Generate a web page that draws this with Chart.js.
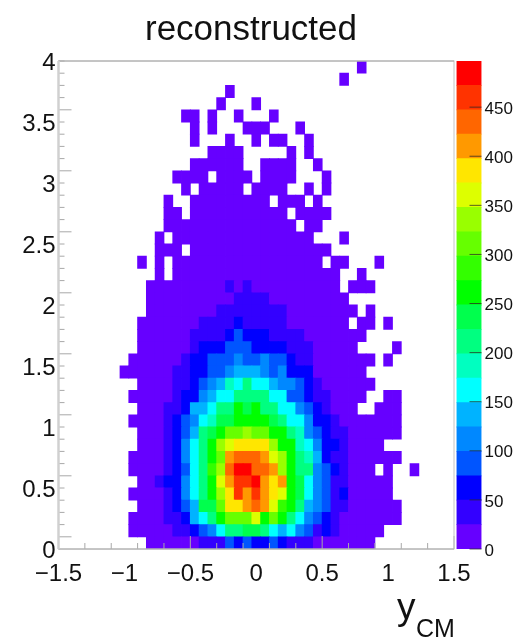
<!DOCTYPE html>
<html>
<head>
<meta charset="utf-8">
<title>reconstructed</title>
<script src="https://cdn.jsdelivr.net/npm/chart.js@4/dist/chart.umd.min.js"></script>
<style>
	html, body { margin: 0; padding: 0; background: #fff; }
	#wrap { position: relative; width: 518px; height: 639px; overflow: hidden; }
	#hist { position: absolute; left: 0; top: 0; }
	#palette { position: absolute; left: 450px; top: 0; }
</style>
</head>
<body>
<div id="wrap">
	<canvas id="hist" width="518" height="639"></canvas>
	<canvas id="palette" width="68" height="639"></canvas>
</div>
<script>
const titleText = 'reconstructed';
const xTitle = 'y';
const xTitleSub = 'CM';
const xTickLabels = ['\u22121.5', '\u22121', '\u22120.5', '0', '0.5', '1', '1.5'];
const yTickLabels = ['0', '0.5', '1', '1.5', '2', '2.5', '3', '3.5', '4'];
const zTickLabels = ['0', '50', '100', '150', '200', '250', '300', '350', '400', '450'];

const xBinEdges = [-1.5, -1.4333, -1.3667, -1.3, -1.2333, -1.1667, -1.1, -1.0333, -0.9667, -0.9, -0.8333, -0.7667,
	-0.7, -0.6333, -0.5667, -0.5, -0.4333, -0.3667, -0.3, -0.2333, -0.1667, -0.1, -0.0333, 0.0333,
	0.1, 0.1667, 0.2333, 0.3, 0.3667, 0.4333, 0.5, 0.5667, 0.6333, 0.7, 0.7667, 0.8333,
	0.9, 0.9667, 1.0333, 1.1, 1.1667, 1.2333, 1.3, 1.3667, 1.4333, 1.5];
// top row first
const yBinCenters = [3.95, 3.85, 3.75, 3.65, 3.55, 3.45, 3.35, 3.25, 3.15, 3.05,
	2.95, 2.85, 2.75, 2.65, 2.55, 2.45, 2.35, 2.25, 2.15, 2.05,
	1.95, 1.85, 1.75, 1.65, 1.55, 1.45, 1.35, 1.25, 1.15, 1.05,
	0.95, 0.85, 0.75, 0.65, 0.55, 0.45, 0.35, 0.25, 0.15, 0.05];
const zLevelEdges = [0, 24.85, 49.7, 74.55, 99.4, 124.25, 149.1, 173.95, 198.8, 223.65, 248.5,
	273.35, 298.2, 323.05, 347.9, 372.75, 397.6, 422.45, 447.3, 472.15, 497];

// first filled x bin of each row, then the counts from that bin on (0 = empty bin)
const rowFirstBin = [34, 32, 19, 18, 14, 15, 15, 17, 15, 13, 14, 12, 12, 12, 11, 11, 9, 11, 10, 10,
	10, 9, 9, 9, 8, 7, 9, 8, 9, 8, 9, 9, 8, 8, 9, 8, 9, 8, 8, 10];
const rowCounts = [
	[12],
	[12],
	[12],
	[12,0,0,0,12],
	[12,12,0,12,0,0,12,0,0,0,12],
	[12,0,12,0,0,0,12,12,12,0,0,0,12],
	[12,0,0,0,12,0,0,12,0,12,12,0,0,12],
	[12,12,12,12,0,0,0,0,0,12,0,12],
	[12,12,12,12,12,12,0,0,12,12,12,12,0,0,12],
	[12,12,12,12,0,12,12,12,12,0,12,12,12,12,0,0,0,12],
	[12,0,12,12,12,12,12,0,12,12,12,12,0,0,12,0,12],
	[12,0,0,12,12,12,12,12,12,12,12,12,0,12,12,12,0,12],
	[12,12,0,12,12,12,12,12,12,12,12,12,12,12,0,12,12,12,12],
	[12,12,12,12,12,12,12,12,12,12,12,12,12,12,12,0,12,12],
	[12,0,12,12,12,12,12,12,12,12,12,12,12,12,12,12,12,12,0,0,0,12],
	[12,12,12,0,12,12,12,12,12,12,12,12,12,12,12,12,12,12,12,12],
	[12,0,12,0,12,12,12,12,12,12,12,12,12,12,12,12,12,12,12,12,12,0,12,12,0,0,0,12],
	[12,0,12,12,12,12,12,12,12,12,12,12,12,12,12,12,12,12,12,12,12,0,0,12],
	[12,12,12,12,12,12,12,12,12,37,12,37,12,12,12,12,12,12,12,12,12,12,0,12,12,12],
	[12,12,12,12,12,12,12,12,12,12,37,37,37,37,12,12,12,12,12,12,12,12,12],
	[12,12,12,12,12,12,12,12,37,37,37,37,37,37,37,37,12,12,12,12,12,12,12,12,0,12],
	[12,12,12,12,12,12,12,37,37,37,37,62,37,37,37,37,37,12,12,12,12,12,12,12,0,12,12,0,12],
	[12,12,12,12,12,12,37,37,37,37,62,87,62,62,62,37,37,37,37,12,12,12,12,12,12,12],
	[12,12,12,12,12,12,37,62,62,62,87,87,87,62,62,62,62,37,37,37,12,12,12,12,12,0,0,0,0,12],
	[12,12,12,12,12,12,37,62,62,87,87,87,112,87,87,112,87,87,62,37,37,12,12,12,12,12,12,12,0,12],
	[12,12,12,12,12,12,37,37,62,62,87,87,112,137,137,137,112,87,112,62,62,62,12,12,12,12,12,12],
	[12,12,12,12,37,37,62,87,112,137,186,161,211,161,161,137,112,112,87,62,37,12,12,12,12,12,12],
	[12,12,12,12,12,37,62,62,112,137,161,161,211,211,211,211,161,161,87,87,62,37,37,12,12,12,12,0,0,12,12],
	[12,12,12,37,37,62,137,137,161,211,211,261,236,261,211,211,161,161,112,87,62,37,12,12,12,0,0,12,12,12],
	[12,12,12,12,37,62,87,112,161,186,236,236,261,261,261,261,236,211,161,161,112,62,62,37,12,12,12,12,12,12,12],
	[12,12,12,37,62,87,137,211,236,261,311,311,335,311,311,261,261,211,186,112,87,62,37,37,12,12,12,12,12,12],
	[12,12,12,37,62,112,161,211,261,335,360,385,385,385,385,335,261,261,186,161,112,62,62,37,12,12,12,12],
	[12,12,12,12,37,62,112,161,211,261,311,410,435,435,435,410,360,335,261,211,186,137,62,37,37,12,12,12,12,12,12],
	[12,12,12,12,37,62,87,161,211,286,335,435,485,485,435,435,410,335,261,211,211,112,87,62,37,12,12,12,0,12,0,0,12],
	[12,12,37,62,62,112,161,211,261,360,410,460,460,485,410,385,410,261,236,161,112,87,37,37,12,12,12,12,12],
	[12,12,12,12,37,62,112,161,211,261,335,385,460,410,460,410,385,360,261,236,161,112,87,37,62,12,12,12,12,12],
	[12,12,12,37,62,87,137,236,236,311,385,385,410,435,410,360,286,261,211,137,112,87,37,37,12,12,12,12,12,12],
	[12,12,12,12,37,37,62,137,161,211,261,311,311,311,360,261,311,261,211,161,112,87,62,37,12,12,12,12,12,12,12],
	[12,12,12,12,12,37,37,62,87,112,161,211,211,236,236,211,161,137,161,112,87,37,62,37,12,12,12,12,12],
	[12,12,12,12,12,12,37,37,37,87,62,87,62,62,87,62,37,37,37,12,12,12,12,12,12,12]
];

// rainbow palette, bottom level first
const levelColors = ['#6600ff', '#3300ff', '#0000ff', '#0055ff', '#0088ff', '#00b3ff', '#00ffff', '#00ffc0',
	'#00ff80', '#00ff4d', '#00ff00', '#33ff00', '#66ff00', '#99ff00', '#ddff00', '#ffe600',
	'#ff9900', '#ff6600', '#ff3300', '#ff0000'];

const FONT = "'Liberation Sans', Arial, sans-serif";
const TEXT_COLOR = '#111';
const AXIS_COLOR = '#a8a8a8';

function levelColor(v) {
	let idx = zLevelEdges.findIndex((e, i) => v >= e && v < zLevelEdges[i + 1]);
	return levelColors[idx];
}

function getHistPoints() {
	let pts = [];
	rowCounts.forEach((row, r) => {
		row.forEach((n, k) => {
			if (n > 0) {
				let bin = rowFirstBin[r] + k;
				pts.push({x: [xBinEdges[bin], xBinEdges[bin + 1]], y: yBinCenters[r], count: n});
			}
		});
	});
	return pts;
}

const histPoints = getHistPoints();

// inward ticks and the frame, plus title text
const frameTicks = {
	id: 'frameTicks',
	afterDatasetsDraw(chart) {
		const {ctx, chartArea: a, scales: {x, y}} = chart;
		ctx.save();
		ctx.strokeStyle = AXIS_COLOR;
		ctx.lineWidth = 1;
		ctx.beginPath();
		for (let i = 0; i < xBinEdges.length; i += 3) {
			let v = xBinEdges[i];
			let len = (i % 15 === 0) ? 13 : 6;
			ctx.moveTo(x.getPixelForValue(v), a.bottom);
			ctx.lineTo(x.getPixelForValue(v), a.bottom - len);
		}
		for (let i = 0; i < yBinCenters.length; i++) {
			let v = yBinCenters[i] + 0.05;
			let len = (i % 5 === 4) ? 13 : 6;
			ctx.moveTo(a.left, y.getPixelForValue(v));
			ctx.lineTo(a.left + len, y.getPixelForValue(v));
		}
		ctx.stroke();
		ctx.strokeStyle = '#c4c4c4';
		ctx.strokeRect(a.left, a.top, a.right - a.left, a.bottom - a.top);
		ctx.strokeStyle = AXIS_COLOR;
		ctx.beginPath();
		ctx.moveTo(a.left, a.top);
		ctx.lineTo(a.right, a.top);
		ctx.moveTo(a.left, a.bottom);
		ctx.lineTo(a.right, a.bottom);
		ctx.stroke();
		ctx.strokeStyle = '#d0d0d0';
		ctx.lineWidth = 2.5;
		ctx.beginPath();
		ctx.moveTo(a.left, a.top);
		ctx.lineTo(a.left, a.bottom);
		ctx.stroke();
		ctx.restore();

		ctx.save();
		ctx.fillStyle = TEXT_COLOR;
		ctx.textBaseline = 'alphabetic';
		ctx.textAlign = 'center';
		ctx.font = '35px ' + FONT;
		ctx.fillText(titleText, 251, 40);
		ctx.textAlign = 'left';
		ctx.font = '37px ' + FONT;
		ctx.fillText(xTitle, 397, 619);
		ctx.font = '25px ' + FONT;
		ctx.fillText(xTitleSub, 416, 637);
		ctx.restore();
	}
};

const paletteTicks = {
	id: 'paletteTicks',
	afterDatasetsDraw(chart) {
		const {ctx, chartArea: a, scales: {y}} = chart;
		ctx.save();
		ctx.strokeStyle = 'rgba(40,40,40,0.75)';
		ctx.lineWidth = 1;
		ctx.beginPath();
		zTickLabels.forEach((t) => {
			let py = y.getPixelForValue(Number(t));
			ctx.moveTo(a.right, py);
			ctx.lineTo(a.right - 12, py);
		});
		ctx.stroke();
		ctx.restore();
	}
};

new Chart(document.getElementById('hist'), {
	type: 'bar',
	data: {
		datasets: [{
			data: histPoints,
			backgroundColor: histPoints.map((p) => levelColor(p.count)),
			barPercentage: 1,
			categoryPercentage: 1,
			borderWidth: 0,
			inflateAmount: 0.4,
		}],
	},
	options: {
		indexAxis: 'y',
		responsive: false,
		animation: false,
		devicePixelRatio: 1,
		layout: {padding: {top: 61, right: 64, left: 0, bottom: 0}},
		plugins: {legend: {display: false}, tooltip: {enabled: false}, title: {display: false}},
		scales: {
			x: {
				type: 'linear',
				min: -1.5,
				max: 1.5,
				offset: false,
				grid: {display: false, drawTicks: false},
				border: {display: false},
				ticks: {
					stepSize: 0.5,
					autoSkip: false,
					maxRotation: 0,
					padding: 11,
					color: TEXT_COLOR,
					font: {family: FONT, size: 24},
					callback: (v, i) => xTickLabels[i],
				},
				afterFit: (s) => { s.height = 90; },
			},
			y: {
				type: 'linear',
				min: 0,
				max: 4,
				offset: false,
				grid: {display: false, drawTicks: false},
				border: {display: false},
				ticks: {
					stepSize: 0.5,
					autoSkip: false,
					padding: 3,
					color: TEXT_COLOR,
					// empty first line with a 5px line height pushes the label 2.5px down
					font: {family: FONT, size: 24, lineHeight: '5px'},
					callback: (v, i) => ['', yTickLabels[i]],
				},
				afterFit: (s) => { s.width = 58.5; },
			},
		},
	},
	plugins: [frameTicks],
});

new Chart(document.getElementById('palette'), {
	type: 'bar',
	data: {
		labels: ['z'],
		datasets: levelColors.map((c, i) => ({
			data: [[zLevelEdges[i], zLevelEdges[i + 1]]],
			backgroundColor: c,
			grouped: false,
			barPercentage: 1,
			categoryPercentage: 1,
			borderWidth: 0,
			inflateAmount: 0.4,
		})),
	},
	options: {
		responsive: false,
		animation: false,
		devicePixelRatio: 1,
		layout: {padding: {top: 61, bottom: 90, left: 6.5, right: 0}},
		plugins: {legend: {display: false}, tooltip: {enabled: false}},
		scales: {
			x: {display: false},
			y: {
				position: 'right',
				min: 0,
				max: 497,
				grid: {display: false, drawTicks: false},
				border: {display: false},
				ticks: {
					stepSize: 50,
					includeBounds: false,
					padding: 3,
					color: TEXT_COLOR,
					font: {family: FONT, size: 17, lineHeight: '4px'},
					callback: (v, i) => ['', zTickLabels[i]],
				},
				afterFit: (s) => { s.width = 36.5; },
			},
		},
	},
	plugins: [paletteTicks],
});
</script>
</body>
</html>
